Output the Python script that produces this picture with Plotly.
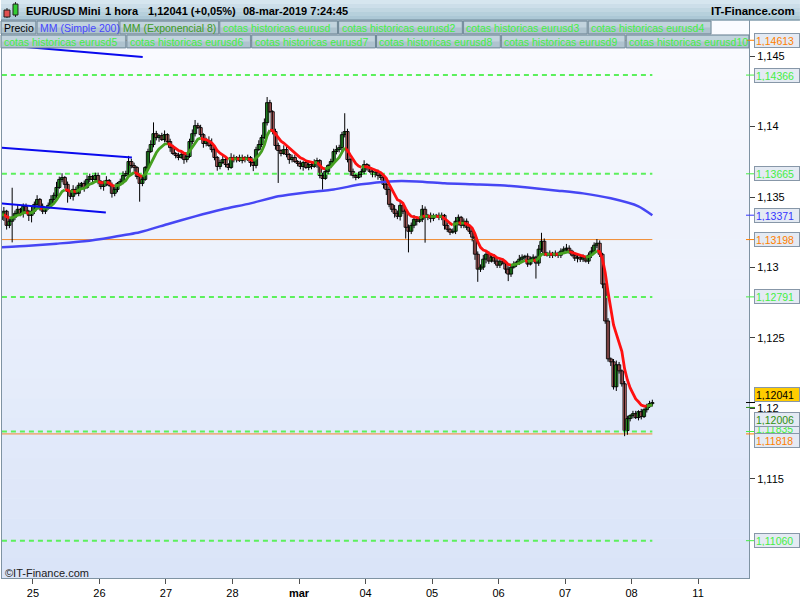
import plotly.graph_objects as go

# ---------------------------------------------------
# DATA  -  EUR/USD Mini, velas de 1 hora
# ---------------------------------------------------

first_open = 1.13340

closes = [
    1.13370, 1.13399, 1.13299, 1.13328, 1.13356, 1.13384, 1.13413, 1.13384, 1.13434, 1.13399, 1.13370, 1.13399,
    1.13448, 1.13483, 1.13434, 1.13399, 1.13420, 1.13441, 1.13483, 1.13512, 1.13568, 1.13625, 1.13639, 1.13590,
    1.13540, 1.13505, 1.13554, 1.13526, 1.13583, 1.13597, 1.13568, 1.13625, 1.13646, 1.13625, 1.13653, 1.13611,
    1.13575, 1.13597, 1.13618, 1.13583, 1.13526, 1.13554, 1.13597, 1.13611, 1.13653, 1.13667, 1.13752, 1.13724,
    1.13710, 1.13646, 1.13597, 1.13625, 1.13710, 1.13823, 1.13873, 1.13950, 1.13922, 1.13936, 1.13908, 1.13943,
    1.13894, 1.13851, 1.13809, 1.13795, 1.13781, 1.13802, 1.13766, 1.13788, 1.13894, 1.13950, 1.14007, 1.13993,
    1.13943, 1.13880, 1.13901, 1.13866, 1.13837, 1.13781, 1.13717, 1.13745, 1.13766, 1.13731, 1.13710, 1.13781,
    1.13766, 1.13781, 1.13759, 1.13781, 1.13766, 1.13781, 1.13745, 1.13724, 1.13837, 1.13873, 1.13922, 1.14028,
    1.14170, 1.14106, 1.13965, 1.13866, 1.13830, 1.13809, 1.13837, 1.13802, 1.13766, 1.13781, 1.13752, 1.13738,
    1.13717, 1.13745, 1.13710, 1.13731, 1.13717, 1.13738, 1.13759, 1.13653, 1.13632, 1.13682, 1.13724, 1.13752,
    1.13823, 1.13837, 1.13851, 1.13943, 1.13965, 1.13766, 1.13682, 1.13653, 1.13639, 1.13660, 1.13682, 1.13731,
    1.13710, 1.13682, 1.13660, 1.13675, 1.13653, 1.13639, 1.13590, 1.13554, 1.13448, 1.13413, 1.13384, 1.13363,
    1.13441, 1.13399, 1.13285, 1.13257, 1.13299, 1.13342, 1.13328, 1.13342, 1.13413, 1.13356, 1.13370, 1.13349,
    1.13363, 1.13370, 1.13356, 1.13370, 1.13299, 1.13271, 1.13250, 1.13257, 1.13328, 1.13356, 1.13299, 1.13328,
    1.13285, 1.13257, 1.13215, 1.13094, 1.12988, 1.13002, 1.13059, 1.13094, 1.13045, 1.13073, 1.13045, 1.13016,
    1.13045, 1.13031, 1.12988, 1.12953, 1.13002, 1.13024, 1.13038, 1.13059, 1.13073, 1.13080, 1.13024, 1.13059,
    1.13073, 1.13031, 1.13130, 1.13186, 1.13101, 1.13087, 1.13101, 1.13087, 1.13101, 1.13087, 1.13116, 1.13130,
    1.13137, 1.13116, 1.13087, 1.13066, 1.13073, 1.13059, 1.13073, 1.13045, 1.13087, 1.13116, 1.13158, 1.13172,
    1.13094, 1.12882, 1.12620, 1.12351, 1.12330, 1.12153, 1.12309, 1.12266, 1.12174, 1.11842, 1.11927, 1.11948,
    1.11962, 1.11934, 1.11976, 1.11941, 1.11990, 1.12012, 1.12033, 1.12041,
]

# wick lengths above / below the body, in pips
upper_pips = [
    2, 3, 1, 2, 21, 2, 3, 1, 2, 2, 1, 3,
    2, 3, 1, 2, 1, 2, 3, 2, 4, 2, 3, 1,
    2, 1, 3, 2, 2, 1, 2, 3, 2, 1, 2, 2,
    1, 2, 3, 1, 2, 2, 1, 2, 3, 2, 4, 2,
    2, 1, 2, 3, 1, 2, 3, 8, 2, 1, 2, 3,
    1, 2, 2, 1, 2, 3, 1, 2, 2, 3, 4, 2,
    2, 1, 2, 3, 5, 2, 1, 2, 3, 2, 1, 3,
    2, 1, 2, 2, 1, 2, 1, 2, 2, 3, 2, 3,
    4, 2, 1, 2, 2, 1, 3, 2, 1, 2, 2, 1,
    2, 1, 2, 2, 1, 3, 2, 1, 2, 2, 1, 2,
    2, 3, 2, 2, 13, 2, 1, 2, 1, 2, 2, 3,
    1, 2, 2, 1, 2, 1, 2, 1, 2, 1, 3, 2,
    3, 2, 1, 2, 2, 3, 2, 2, 3, 2, 1, 2,
    2, 1, 2, 2, 1, 2, 1, 2, 3, 2, 1, 2,
    2, 1, 2, 1, 2, 2, 3, 2, 2, 1, 2, 2,
    1, 2, 1, 2, 2, 2, 1, 3, 2, 1, 2, 2,
    2, 1, 3, 6, 2, 1, 2, 1, 2, 1, 2, 2,
    3, 2, 1, 2, 2, 1, 2, 1, 2, 3, 2, 3,
    2, 1, 1, 2, 1, 2, 3, 2, 1, 2, 2, 1,
    2, 2, 1, 2, 1, 2, 2, 2,
]
lower_pips = [
    2, 4, 3, 2, 15, 2, 1, 2, 3, 2, 4, 5,
    2, 1, 3, 2, 2, 1, 2, 3, 2, 1, 2, 3,
    8, 2, 3, 1, 2, 2, 3, 1, 2, 2, 1, 2,
    2, 3, 2, 1, 3, 2, 2, 1, 2, 1, 2, 2,
    3, 2, 13, 2, 1, 2, 1, 2, 2, 3, 1, 2,
    2, 3, 1, 2, 2, 1, 3, 2, 1, 2, 2, 1,
    2, 3, 2, 1, 2, 2, 3, 2, 1, 2, 2, 1,
    2, 2, 1, 2, 2, 1, 3, 4, 2, 1, 2, 1,
    2, 1, 2, 3, 23, 2, 1, 2, 3, 2, 1, 2,
    2, 3, 1, 2, 2, 1, 3, 2, 8, 1, 2, 2,
    1, 2, 2, 3, 2, 2, 3, 2, 2, 1, 2, 2,
    2, 1, 2, 2, 3, 2, 3, 4, 2, 2, 3, 2,
    3, 2, 8, 15, 2, 2, 3, 1, 2, 18, 2, 3,
    2, 1, 2, 2, 3, 2, 2, 1, 2, 3, 2, 2,
    2, 2, 3, 4, 9, 2, 2, 3, 2, 1, 2, 2,
    2, 1, 3, 5, 2, 1, 2, 2, 1, 2, 2, 1,
    2, 11, 2, 2, 2, 1, 2, 2, 1, 2, 2, 1,
    2, 2, 1, 2, 3, 2, 2, 1, 2, 2, 1, 2,
    2, 3, 2, 2, 3, 2, 3, 2, 2, 4, 3, 2,
    2, 1, 2, 2, 1, 2, 1, 2,
]

# MM (Simple 200) read at every 10th candle
mm200_idx = [0, 10, 20, 30, 40, 50, 60, 70, 80, 90, 100, 110, 120,
             130, 140, 150, 160, 170, 180, 190, 200, 210, 220, 230, 235]
mm200_val = [1.13144, 1.13154, 1.13169, 1.13186, 1.13215, 1.13250, 1.13307,
             1.13363, 1.13413, 1.13455, 1.13505, 1.13533, 1.13554, 1.13590,
             1.13611, 1.13611, 1.13597, 1.13590, 1.13583, 1.13568, 1.13547,
             1.13526, 1.13491, 1.13434, 1.13371]

# drawn trend lines (candle index, price)
trend_x = [[0, 51.1], [0, 47.2], [0, 37.8]]
trend_y = [[1.14580, 1.14495], [1.13851, 1.13781], [1.13455, 1.13391]]

green_levels = [1.14366, 1.13665, 1.12791, 1.11835, 1.11060]
orange_levels = [1.14613, 1.13198, 1.11818]

last_price = 1.12041
mm200_last = 1.13371
ema8_last = 1.12006

day_labels = ['25', '26', '27', '28', '<b>mar</b>', '04', '05', '06', '07', '08', '11']
price_ticks = [1.115, 1.12, 1.125, 1.13, 1.135, 1.14, 1.145]

legend_row1 = ['Precio', 'MM (Simple 200)', 'MM (Exponencial 8)',
               'cotas historicas eurusd', 'cotas historicas eurusd2',
               'cotas historicas eurusd3', 'cotas historicas eurusd4']
legend_row2 = ['cotas historicas eurusd5', 'cotas historicas eurusd6',
               'cotas historicas eurusd7', 'cotas historicas eurusd8',
               'cotas historicas eurusd9', 'cotas historicas eurusd10']

assert len(closes) == len(upper_pips) == len(lower_pips)

# ---------------------------------------------------
# DERIVED SERIES
# ---------------------------------------------------

n = len(closes)
idx = list(range(n))
opens = [first_open] + closes[:-1]
highs = [max(o, c) + u * 0.0001 for o, c, u in zip(opens, closes, upper_pips)]
lows = [min(o, c) - d * 0.0001 for o, c, d in zip(opens, closes, lower_pips)]

k = 2 / 9
ema = [closes[0]]
for c in closes[1:]:
    ema.append(ema[-1] + k * (c - ema[-1]))

# split the EMA into rising (green) / falling (red) runs
runs = {'up': ([], []), 'dn': ([], [])}
prev = None
for i in range(1, n):
    kind = 'up' if ema[i] >= ema[i - 1] else 'dn'
    xs, ys = runs[kind]
    if kind != prev:
        if xs:
            xs.append(None)
            ys.append(None)
        xs += [i - 1, i]
        ys += [ema[i - 1], ema[i]]
    else:
        xs.append(i)
        ys.append(ema[i])
    prev = kind

# wicks as one broken line
wick_x, wick_y = [], []
for i in idx:
    wick_x += [i, i, None]
    wick_y += [lows[i], highs[i], None]

body_base = [min(o, c) for o, c in zip(opens, closes)]
body_len = [max(abs(c - o), 0.00002) for o, c in zip(opens, closes)]
body_col = ['#33cc33' if c >= o else '#f08080' for o, c in zip(opens, closes)]

# ---------------------------------------------------
# GEOMETRY HELPERS (pixel -> paper)
# ---------------------------------------------------

W, H = 800, 600
ML, MR, MT, MB = 1, 51, 20, 20
PW, PH = W - ML - MR, H - MT - MB
FONT = 'Liberation Sans, Arial, sans-serif'
NARROW = 'Liberation Sans Narrow, Liberation Sans, Arial, sans-serif'


def fx(px):
    return (px - ML) / PW


def fy(py):
    return (H - MB - py) / PH


def mix(c0, c1, t):
    return '#%02x%02x%02x' % tuple(round(a + (b - a) * t) for a, b in zip(c0, c1))


def rect(x0, y0, x1, y1, fill, border=None, layer='above'):
    return dict(type='rect', xref='paper', yref='paper',
                x0=fx(x0), x1=fx(x1), y0=fy(y1), y1=fy(y0),
                fillcolor=fill, layer=layer,
                line=dict(color=border or fill, width=1 if border else 0))


shapes = []
annotations = []

# plot background gradient
bands = 28
for b in range(bands):
    y0 = MT + b * PH / bands
    shapes.append(rect(0, y0, 750, y0 + PH / bands + 0.5,
                       mix((250, 251, 255), (218, 228, 248), b / (bands - 1)), layer='below'))

# ---------------------------------------------------
# TRACES
# ---------------------------------------------------

fig = go.Figure()

for lv in green_levels:
    fig.add_trace(go.Scatter(x=[0.3, n - 1], y=[lv, lv], mode='lines',
                             line=dict(color='#5cf05c', width=2, dash='5px,4px'),
                             hoverinfo='skip'))
for lv in orange_levels:
    fig.add_trace(go.Scatter(x=[0.3, n - 1], y=[lv, lv], mode='lines',
                             line=dict(color='#f08a30', width=1),
                             hoverinfo='skip'))

# candles: wicks then bodies
fig.add_trace(go.Scatter(x=wick_x, y=wick_y, mode='lines',
                         line=dict(color='black', width=1), hoverinfo='skip'))
fig.add_trace(go.Bar(x=idx, y=body_len, base=body_base, width=1.15,
                     marker=dict(color=body_col, line=dict(color='black', width=0.9)),
                     name='Precio'))

fig.add_trace(go.Scatter(x=mm200_idx, y=mm200_val, mode='lines',
                         line=dict(color='#4646f4', width=2.5, shape='spline', smoothing=0.6),
                         hoverinfo='skip'))

fig.add_trace(go.Scatter(x=runs['dn'][0], y=runs['dn'][1], mode='lines',
                         line=dict(color='#ff1010', width=2.8), hoverinfo='skip'))
fig.add_trace(go.Scatter(x=runs['up'][0], y=runs['up'][1], mode='lines',
                         line=dict(color='#45a020', width=2.8), hoverinfo='skip'))

for tx, ty in zip(trend_x, trend_y):
    fig.add_trace(go.Scatter(x=tx, y=ty, mode='lines',
                             line=dict(color='#0a0aee', width=2), hoverinfo='skip'))

# ---------------------------------------------------
# HEADER BAR
# ---------------------------------------------------

for b in range(5):
    shapes.append(rect(0, b * 4, 800, b * 4 + 4.5,
                       mix((214, 230, 239), (172, 200, 214), b / 4)))
shapes.append(dict(type='line', xref='paper', yref='paper', x0=fx(0), x1=fx(800),
                   y0=fy(20), y1=fy(20), line=dict(color='#6f8898', width=1), layer='above'))

# little candle icon
shapes.append(dict(type='line', xref='paper', yref='paper', x0=fx(6), x1=fx(6),
                   y0=fy(18), y1=fy(8), line=dict(color='#202020', width=1), layer='above'))
shapes.append(rect(3, 10, 9, 17, '#e05050', '#202020'))
shapes.append(dict(type='line', xref='paper', yref='paper', x0=fx(14.5), x1=fx(14.5),
                   y0=fy(17), y1=fy(2), line=dict(color='#202020', width=1), layer='above'))
shapes.append(rect(12, 4, 17, 15, '#33cc33', '#202020'))

header_parts = [(23, 'EUR/USD Mini'), (102, '1 hora'),
                (145, f'{last_price:.5f}'.replace('.', ',') + ' (+0,05%)'),
                (240, '08-mar-2019 7:24:45')]
for px, txt in header_parts:
    annotations.append(dict(xref='paper', yref='paper', x=fx(px), y=fy(10.5),
                            xanchor='left', yanchor='middle', showarrow=False,
                            text=f'<b>{txt}</b>', font=dict(family=FONT, size=11, color='black')))
annotations.append(dict(xref='paper', yref='paper', x=fx(797), y=fy(10.5),
                        xanchor='right', yanchor='middle', showarrow=False,
                        text='<b>IT-Finance.com</b>', font=dict(family=FONT, size=11.5, color='black')))

# ---------------------------------------------------
# LEGEND BOXES
# ---------------------------------------------------

row1_edges = [0, 36, 119, 219, 338, 463, 588, 712]
row2_edges = [0, 126, 251, 376, 501, 626, 750]
row1_colors = ['black', '#4646ff', '#3c9a1c'] + ['#44ee44'] * 4
row2_colors = ['#44ee44'] * 6


def legend_row(labels, edges, colors, top, bottom):
    for lab, x0, x1, col in zip(labels, edges[:-1], edges[1:], colors):
        shapes.append(rect(x0, top, x1 - 1, bottom, '#afc3cf', '#6f8797'))
        shapes.append(rect(x0 + 1, top + 1, x1 - 2, (top + bottom) / 2, '#c2d3dd'))
        annotations.append(dict(xref='paper', yref='paper', x=fx(x0 + 1), y=fy((top + bottom) / 2 + 0.5),
                                xanchor='left', yanchor='middle', showarrow=False, text=lab,
                                font=dict(family=FONT, size=10.5, color=col)))


legend_row(legend_row1, row1_edges, row1_colors, 21, 34)
legend_row(legend_row2, row2_edges, row2_colors, 35, 48)

# ---------------------------------------------------
# RIGHT SIDE VALUE BOXES
# ---------------------------------------------------

value_boxes = [
    (orange_levels[0], '#ff7f00', '#e4eaf3', 0),
    (green_levels[0], '#44ee44', '#e4eaf3', 0),
    (green_levels[1], '#44ee44', '#e4eaf3', 0),
    (mm200_last, '#3535ff', '#e4eaf3', 0),
    (orange_levels[1], '#ff7f00', '#e4eaf3', 0),
    (green_levels[2], '#44ee44', '#e4eaf3', 0),
    (green_levels[3], '#44ee44', '#e4eaf3', 3),
    (orange_levels[2], '#ff7f00', '#e4eaf3', -7),
    (ema8_last, '#2f8f0f', '#e4eaf3', -12),
    (last_price, 'black', '#ffcc00', 8),
    (green_levels[4], '#44ee44', '#e4eaf3', 0),
]
for val, col, bg, shift in value_boxes:
    shapes.append(dict(type='line', xref='paper', yref='y', x0=fx(746), x1=fx(755),
                       y0=val, y1=val, line=dict(color=col, width=1), layer='above'))
    annotations.append(dict(xref='paper', yref='y', x=fx(754), y=val, yshift=shift,
                            xanchor='left', yanchor='middle', showarrow=False,
                            text=f'{val:.5f}'.replace('.', ','), width=42, height=11,
                            align='left', bgcolor=bg, bordercolor='#8797a8', borderwidth=1,
                            borderpad=1, font=dict(family=FONT, size=10.5, color=col)))

annotations.append(dict(xref='paper', yref='paper', x=fx(2), y=fy(575),
                        xanchor='left', yanchor='middle', showarrow=False,
                        text='©IT-Finance.com', font=dict(family=NARROW, size=11, color='#202020')))

# ---------------------------------------------------
# LAYOUT
# ---------------------------------------------------

fig.update_layout(
    width=W, height=H,
    margin=dict(l=ML, r=MR, t=MT, b=MB, pad=0),
    paper_bgcolor='white',
    plot_bgcolor='rgba(0,0,0,0)',
    showlegend=False,
    separators=',.',
    font=dict(family=FONT, size=11, color='black'),
    shapes=shapes,
    annotations=annotations,
)

fig.update_xaxes(
    range=[0.33, 269.88],
    tickmode='array',
    tickvals=[11.5 + 24 * d for d in range(len(day_labels))],
    ticktext=day_labels,
    ticks='outside', ticklen=5, tickcolor='#505050',
    tickfont=dict(family=NARROW, size=11, color='black'),
    showgrid=False, zeroline=False,
    showline=True, mirror=True, linecolor='#7f93a3',
)

fig.update_yaxes(
    side='right',
    range=[1.10795, 1.14757],
    tickmode='array',
    tickvals=price_ticks,
    ticktext=[str(v).replace('.', ',') for v in price_ticks],
    ticks='outside', ticklen=5, tickcolor='#404040',
    tickfont=dict(family=FONT, size=11, color='black'),
    showgrid=False, zeroline=False,
    showline=True, mirror=True, linecolor='#7f93a3',
)

fig.write_html("out.html", config={'displayModeBar': False},
               post_script="document.body.style.margin='0';")
